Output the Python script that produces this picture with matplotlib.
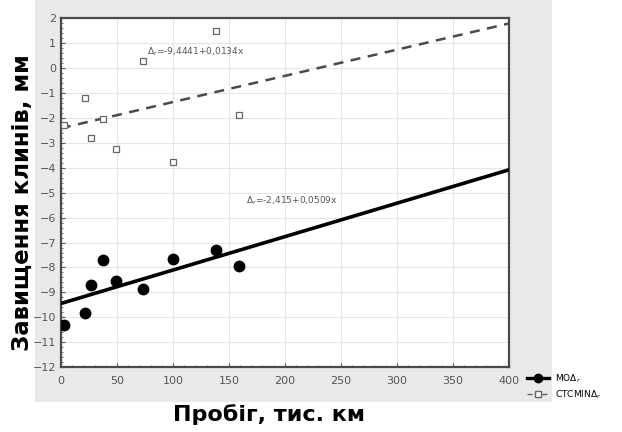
import numpy as np
import matplotlib.pyplot as plt
from matplotlib.patches import Rectangle
from matplotlib.lines import Line2D
from matplotlib.ticker import MultipleLocator

# mileage, thousand km
mileage = [2.9, 21.4, 26.8, 37.8, 48.8, 72.9, 100.3, 138.4, 159.2]
# wedge clearance, mm (filled: MOD, open: CTCMIN)
wear_mod = [-10.29, -9.82, -8.70, -7.72, -8.55, -8.88, -7.68, -7.29, -7.95]
wear_min = [-2.29, -1.21, -2.81, -2.05, -3.25, 0.28, -3.78, 1.48, -1.89]

# regression coefficients (intercept, slope)
fit_mod = (-9.4441, 0.0134)
fit_min = (-2.415, 0.0105)
label_fit_a = r'$\Delta_r$=-9,4441+0,0134x'
label_fit_b = r'$\Delta_r$=-2,415+0,0509x'

legend_labels = [r'МОΔ$_r$', r'CTCMINΔ$_r$']

fig = plt.figure(figsize=(6.22, 4.32), dpi=100)
fig.patches.append(Rectangle((0.056, 0.069), 0.831, 0.931,
                             transform=fig.transFigure, facecolor='#e9e9e9',
                             edgecolor='none', zorder=-10))
ax = fig.add_axes([0.098, 0.150, 0.720, 0.808])
ax.set_facecolor('white')

xx = np.array([0, 400])
ax.plot(xx, fit_mod[0] + fit_mod[1]*xx, '-', color='black', lw=2.6, zorder=3)
ax.plot(xx, fit_min[0] + fit_min[1]*xx, '--', color='#4a4a4a', lw=1.8,
        dashes=(4, 3), zorder=3)
ax.plot(mileage, wear_mod, 'o', color='black', ms=7.5, zorder=4)
ax.plot(mileage, wear_min, 's', mfc='white', mec='#666666', mew=0.9, ms=5,
        zorder=4)

ax.text(77, 0.64, label_fit_a, fontsize=6.5, color='#555555', va='center')
ax.text(165, -5.34, label_fit_b, fontsize=6.5, color='#555555', va='center')

ax.set_xlim(0, 400)
ax.set_ylim(-12, 2)
ax.xaxis.set_major_locator(MultipleLocator(50))
ax.xaxis.set_minor_locator(MultipleLocator(10))
ax.yaxis.set_major_locator(MultipleLocator(1))
ax.yaxis.set_minor_locator(MultipleLocator(0.2))
ax.grid(True, which='major', color='#e6e6e6', lw=0.8)
ax.set_axisbelow(True)
ax.tick_params(which='both', direction='in', colors='#555555',
               labelsize=8, labelcolor='#555555')
ax.tick_params(which='major', length=3)
ax.tick_params(which='minor', length=1.5)
ax.tick_params(axis='x', pad=6)
for s in ax.spines.values():
    s.set_color('#4a4a4a')
    s.set_linewidth(1.6)

fig.text(0.432, 0.040, 'Пробіг, тис. км', fontsize=16, fontweight='bold',
         ha='center', va='center')
fig.text(0.036, 0.53, 'Завищення клинів, мм', fontsize=16.5, fontweight='bold',
         ha='center', va='center', rotation=90)

handles = [Line2D([], [], color='black', lw=2.4, marker='o', ms=6),
           Line2D([], [], color='#666666', lw=1, ls='--', marker='s', ms=4,
                  mfc='white')]
fig.legend(handles, legend_labels, loc='center left',
           bbox_to_anchor=(0.835, 0.105), frameon=False, fontsize=6.5,
           handlelength=2.4, labelspacing=0.4, handletextpad=0.6)

fig.savefig('out.png', dpi=100)
